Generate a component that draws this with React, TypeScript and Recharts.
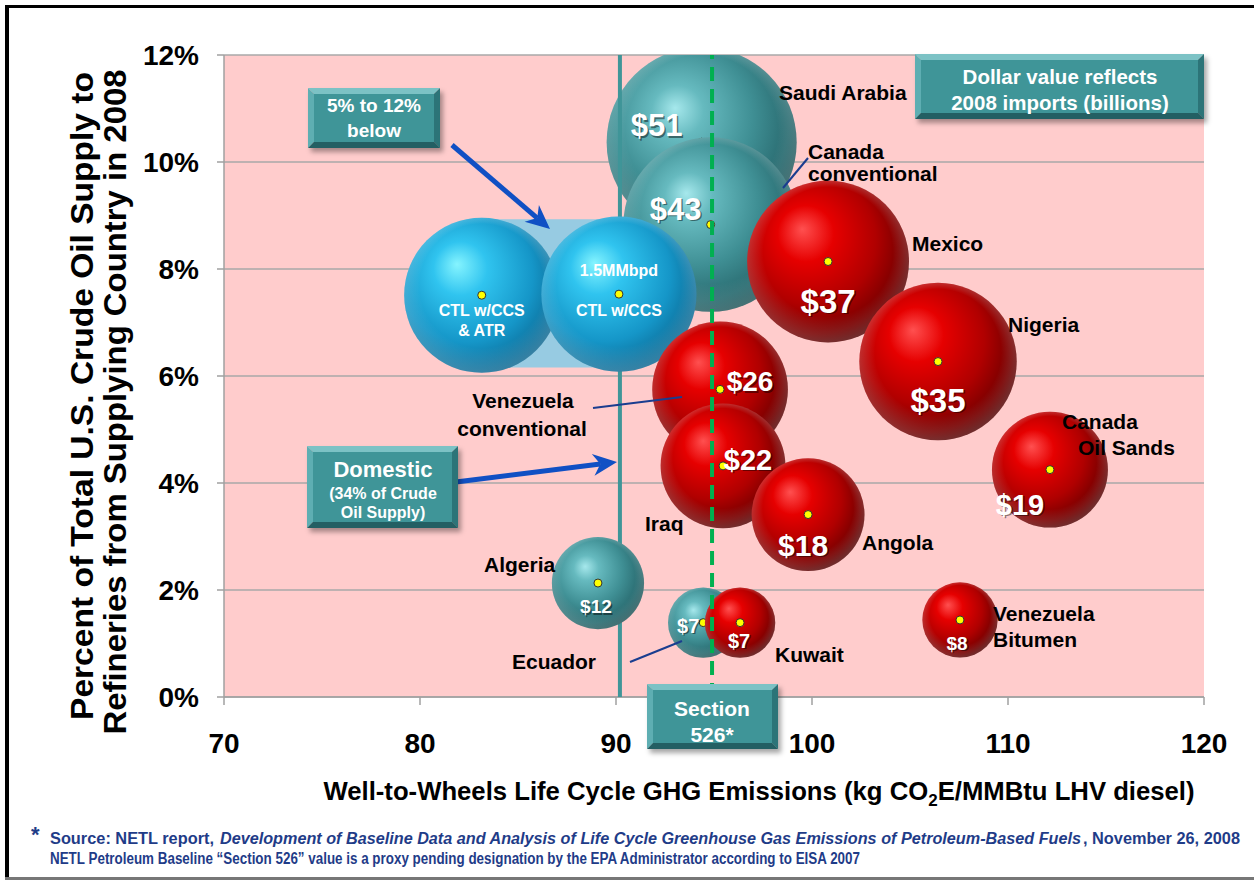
import React from 'react';
import { ScatterChart, Scatter, XAxis, YAxis, ZAxis, CartesianGrid, ReferenceArea } from 'recharts';

const W = 1254;
const H = 886;

// bubbles, drawn back to front
const names = [
  'Saudi Arabia',
  'Canada conventional',
  'CTL w/CCS & ATR',
  'CTL w/CCS 1.5MMbpd',
  'Mexico',
  'Nigeria',
  'Canada Oil Sands',
  'Venezuela conventional',
  'Iraq',
  'Angola',
  'Algeria',
  'Ecuador',
  'Kuwait',
  'Venezuela Bitumen',
];
const ghgEmissions = [94.37, 94.83, 83.15, 90.15, 100.82, 106.43, 112.14, 95.31, 95.46, 99.8, 89.08, 94.45, 96.33, 107.55];
const supplyShare = [10.37, 8.83, 7.51, 7.53, 8.14, 6.27, 4.25, 5.75, 4.32, 3.41, 2.13, 1.39, 1.39, 1.44];
const importsBillions = [51, 43, null, null, 37, 35, 19, 26, 22, 18, 12, 7, 7, 8];
const kinds = ['teal', 'teal', 'ctl', 'ctl', 'red', 'red', 'red', 'red', 'red', 'red', 'teal', 'teal', 'red', 'red'];
const ctlBubbleSize = 34;

const xTicks = [70, 80, 90, 100, 110, 120];
const yTicks = [0, 2, 4, 6, 8, 10, 12];
const domesticGhg = 90.2;
const section526Ghg = 94.9;
const ctlBandLow = 6.16;
const ctlBandHigh = 8.93;

const points = names.map((name, i) => ({
  name,
  x: ghgEmissions[i],
  y: supplyShare[i],
  z: importsBillions[i] ?? ctlBubbleSize,
  value: importsBillions[i],
  kind: kinds[i],
}));
const backPoints = points.filter((p) => p.name === 'Saudi Arabia');
const frontPoints = points.filter((p) => p.name !== 'Saudi Arabia');
const domesticData = [{ x: domesticGhg, y: 0 }, { x: domesticGhg, y: 12 }];
const section526Data = [{ x: section526Ghg, y: 0 }, { x: section526Ghg, y: 12 }];

const F = '"Liberation Sans", Arial, Helvetica, sans-serif';
const FN = '"Liberation Sans Narrow", "Arial Narrow", "Liberation Sans", sans-serif';

// value label placement relative to the bubble point: dx, dy (baseline), font size
const valueLabelPos: Record<string, [number, number, number]> = {
  'Saudi Arabia': [-45, -6, 31],
  'Canada conventional': [-35, -5, 31],
  Mexico: [0, 51, 33],
  Nigeria: [0, 50, 33],
  'Canada Oil Sands': [-30, 45, 29],
  'Venezuela conventional': [30, 2, 28],
  Iraq: [25, 4, 29],
  Angola: [-5, 41, 30],
  Algeria: [-2, 30, 19],
  Ecuador: [-15, 10, 20],
  Kuwait: [-1, 25, 20],
  'Venezuela Bitumen': [-3, 30, 19],
};
const ctlLabels: Record<string, [string, number][]> = {
  'CTL w/CCS & ATR': [['CTL w/CCS', 21], ['& ATR', 41]],
  'CTL w/CCS 1.5MMbpd': [['1.5MMbpd', -18], ['CTL w/CCS', 22]],
};

const Sphere = (props: any) => {
  const { cx, cy, payload } = props;
  if (cx == null || cy == null || !payload) return <g />;
  const r = Math.sqrt(Math.max(props.size || 0, 0) / Math.PI);
  const lab = valueLabelPos[payload.name];
  const ctl = ctlLabels[payload.name];
  return (
    <g>
      <circle cx={cx} cy={cy} r={r} fill={`url(#sphere-${payload.kind})`} />
      <circle cx={cx} cy={cy} r={r} fill="url(#sphere-rim)" />
      <circle cx={cx} cy={cy} r={4} fill="#ffff00" stroke="#333" strokeWidth={1} />
      {lab && payload.value != null && (
        <g fontFamily={F} fontWeight="bold" fontSize={lab[2]} textAnchor="middle">
          <text x={cx + lab[0] + 1.5} y={cy + lab[1] + 1.5} fill="rgba(0,0,0,0.45)">${payload.value}</text>
          <text x={cx + lab[0]} y={cy + lab[1]} fill="#fff">${payload.value}</text>
        </g>
      )}
      {ctl && (
        <g fontFamily={F} fontWeight="bold" fontSize={16} textAnchor="middle" fill="#fff">
          {ctl.map(([t, dy]) => (
            <text key={t} x={cx} y={cy + dy}>{t}</text>
          ))}
        </g>
      )}
    </g>
  );
};

const NoMark = () => <g />;

const Box = ({ x, y, w, h }: { x: number; y: number; w: number; h: number }) => {
  const b = 6;
  return (
    <g>
      <rect x={x + 3} y={y + 4} width={w} height={h} fill="rgba(0,0,0,0.35)" filter="url(#soft)" />
      <polygon points={`${x},${y} ${x + w},${y} ${x + w - b},${y + b} ${x + b},${y + b}`} fill="#7cc2c5" />
      <polygon points={`${x},${y} ${x + b},${y + b} ${x + b},${y + h - b} ${x},${y + h}`} fill="#5eaeb2" />
      <polygon points={`${x + w},${y} ${x + w},${y + h} ${x + w - b},${y + h - b} ${x + w - b},${y + b}`} fill="#2c7478" />
      <polygon points={`${x},${y + h} ${x + b},${y + h - b} ${x + w - b},${y + h - b} ${x + w},${y + h}`} fill="#235f63" />
      <rect x={x + b} y={y + b} width={w - 2 * b} height={h - 2 * b} fill="#3f9598" />
    </g>
  );
};

const Arrow = ({ x1, y1, x2, y2 }: { x1: number; y1: number; x2: number; y2: number }) => {
  const a = Math.atan2(y2 - y1, x2 - x1);
  const len = 24;
  const hw = 11;
  const bx = x2 - len * Math.cos(a);
  const by = y2 - len * Math.sin(a);
  const nx = -Math.sin(a);
  const ny = Math.cos(a);
  const ix = x2 - len * 0.7 * Math.cos(a);
  const iy = y2 - len * 0.7 * Math.sin(a);
  return (
    <g>
      <line x1={x1} y1={y1} x2={ix} y2={iy} stroke="#1050c4" strokeWidth={5} />
      <polygon
        points={`${x2},${y2} ${bx + nx * hw},${by + ny * hw} ${ix},${iy} ${bx - nx * hw},${by - ny * hw}`}
        fill="#1050c4"
      />
    </g>
  );
};

const countryLabels: { t: string; x: number; y: number; anchor?: string }[] = [
  { t: 'Saudi Arabia', x: 779, y: 100 },
  { t: 'Canada', x: 808, y: 159 },
  { t: 'conventional', x: 808, y: 181 },
  { t: 'Mexico', x: 912, y: 251 },
  { t: 'Nigeria', x: 1008, y: 332 },
  { t: 'Canada', x: 1062, y: 429 },
  { t: 'Oil Sands', x: 1078, y: 455 },
  { t: 'Venezuela', x: 523, y: 408, anchor: 'middle' },
  { t: 'conventional', x: 522, y: 436, anchor: 'middle' },
  { t: 'Iraq', x: 645, y: 531 },
  { t: 'Angola', x: 862, y: 550 },
  { t: 'Algeria', x: 484, y: 572 },
  { t: 'Ecuador', x: 512, y: 669 },
  { t: 'Kuwait', x: 775, y: 662 },
  { t: 'Venezuela', x: 993, y: 621 },
  { t: 'Bitumen', x: 993, y: 647 },
];

const tickStyle = { fontFamily: F, fontWeight: 'bold', fontSize: 28, fill: '#000' };

// footnote is set condensed: drawn in a horizontally squeezed group
const FS = 0.86;

export default function App() {
  return (
    <div style={{ position: 'absolute', left: 0, top: 0, width: W, height: H, background: '#fff' }}>
      <ScatterChart width={W} height={H} margin={{ top: 55, right: 50, bottom: 129, left: 0 }}>
        <CartesianGrid vertical={false} fill="#ffcccc" stroke="#a8a8a8" strokeWidth={1.5} />
        <XAxis
          type="number"
          dataKey="x"
          domain={[70, 120]}
          ticks={xTicks}
          allowDataOverflow
          height={60}
          tickSize={8}
          tickMargin={28}
          tick={tickStyle}
          axisLine={{ stroke: '#a0a0a0', strokeWidth: 1.5 }}
          tickLine={{ stroke: '#a0a0a0', strokeWidth: 1.5 }}
        />
        <YAxis
          type="number"
          dataKey="y"
          domain={[0, 12]}
          ticks={yTicks}
          allowDataOverflow
          width={224}
          tickSize={7}
          tickMargin={18}
          tick={tickStyle}
          tickFormatter={(v: number) => `${v}%`}
          axisLine={{ stroke: '#a0a0a0', strokeWidth: 1.5 }}
          tickLine={{ stroke: '#a0a0a0', strokeWidth: 1.5 }}
        />
        <ZAxis type="number" dataKey="z" domain={[0, 51]} range={[0, Math.PI * 95 * 95]} />
        <ReferenceArea
          x1={ghgEmissions[2]}
          x2={ghgEmissions[3]}
          y1={ctlBandLow}
          y2={ctlBandHigh}
          fill="#8ccbe4"
          fillOpacity={0.9}
          stroke="none"
        />
        <Scatter data={backPoints} shape={Sphere} isAnimationActive={false} />
        <Scatter
          data={domesticData}
          shape={NoMark}
          line={{ stroke: '#3f9598', strokeWidth: 4 }}
          isAnimationActive={false}
        />
        <Scatter data={frontPoints} shape={Sphere} isAnimationActive={false} />
        <Scatter
          data={section526Data}
          shape={NoMark}
          line={{ stroke: '#00b050', strokeWidth: 4, strokeDasharray: '14 8' }}
          isAnimationActive={false}
        />
      </ScatterChart>

      <svg
        width={W}
        height={H}
        style={{ position: 'absolute', left: 0, top: 0, pointerEvents: 'none' }}
      >
        <defs>
          <radialGradient id="sphere-teal" cx="42%" cy="40%" r="62%" fx="36%" fy="32%">
            <stop offset="0%" stopColor="#a6e8ec" />
            <stop offset="22%" stopColor="#66babf" />
            <stop offset="60%" stopColor="#3f8f94" />
            <stop offset="88%" stopColor="#2a6c71" />
            <stop offset="100%" stopColor="#1e5357" />
          </radialGradient>
          <radialGradient id="sphere-red" cx="42%" cy="40%" r="62%" fx="34%" fy="30%">
            <stop offset="0%" stopColor="#ff5050" />
            <stop offset="28%" stopColor="#e60000" />
            <stop offset="65%" stopColor="#b00000" />
            <stop offset="90%" stopColor="#760000" />
            <stop offset="100%" stopColor="#520000" />
          </radialGradient>
          <radialGradient id="sphere-ctl" cx="42%" cy="40%" r="62%" fx="34%" fy="30%">
            <stop offset="0%" stopColor="#85f4ff" />
            <stop offset="28%" stopColor="#30c4ef" />
            <stop offset="70%" stopColor="#1596c8" />
            <stop offset="100%" stopColor="#0b6690" />
          </radialGradient>
          <radialGradient id="sphere-rim" cx="50%" cy="50%" r="50%" fx="50%" fy="20%">
            <stop offset="80%" stopColor="#ffffff" stopOpacity={0} />
            <stop offset="100%" stopColor="#ffffff" stopOpacity={0.18} />
          </radialGradient>
          <filter id="soft" x="-10%" y="-10%" width="120%" height="130%">
            <feGaussianBlur stdDeviation="2.5" />
          </filter>
        </defs>

        {/* frame */}
        <rect x={5} y={5} width={W - 5} height={3} fill="#000" />
        <rect x={5} y={5} width={4} height={875} fill="#000" />
        <rect x={5} y={877} width={W - 5} height={3} fill="#777" />

        {/* y axis title */}
        <g fontFamily={FN} fontWeight="bold" fontSize={31} fill="#000" textAnchor="middle">
          <text transform="translate(93,396) rotate(-90)" textLength={648} lengthAdjust="spacingAndGlyphs">
            Percent of Total U.S.  Crude Oil Supply to
          </text>
          <text transform="translate(126,402) rotate(-90)" textLength={665} lengthAdjust="spacingAndGlyphs">
            Refineries from Supplying Country in 2008
          </text>
        </g>

        {/* x axis title */}
        <text x={759} y={800} textAnchor="middle" fontFamily={F} fontWeight="bold" fontSize={25.7} fill="#000">
          Well-to-Wheels Life Cycle GHG Emissions (kg CO
          <tspan fontSize={17} dy={6}>2</tspan>
          <tspan dy={-6}>E/MMBtu LHV diesel)</tspan>
        </text>

        {/* connectors */}
        <g stroke="#1a3d8f" strokeWidth={2}>
          <line x1={808} y1={158} x2={783} y2={188} />
          <line x1={593} y1={408} x2={682} y2={397} />
          <line x1={630} y1={662} x2={682} y2={641} />
        </g>

        {/* country labels */}
        <g fontFamily={F} fontWeight="bold" fontSize={21} fill="#000">
          {countryLabels.map((c, i) => (
            <text key={i} x={c.x} y={c.y} textAnchor={c.anchor || 'start'}>{c.t}</text>
          ))}
        </g>

        {/* callouts */}
        <Arrow x1={452} y1={145} x2={550} y2={229} />
        <Arrow x1={456} y1={482} x2={617} y2={462} />

        <Box x={308} y={88} w={132} h={60} />
        <g fontFamily={F} fontWeight="bold" fontSize={19} fill="#fff" textAnchor="middle">
          <text x={374} y={112}>5% to 12%</text>
          <text x={374} y={137}>below</text>
        </g>

        <Box x={915} y={54} w={289} h={65} />
        <g fontFamily={F} fontWeight="bold" fontSize={20.5} fill="#fff" textAnchor="middle">
          <text x={1060} y={84}>Dollar value reflects</text>
          <text x={1060} y={110}>2008 imports (billions)</text>
        </g>

        <Box x={307} y={446} w={151} h={82} />
        <g fontFamily={F} fontWeight="bold" fill="#fff" textAnchor="middle">
          <text x={383} y={477} fontSize={22}>Domestic</text>
          <text x={383} y={499} fontSize={16}>(34% of Crude</text>
          <text x={383} y={518} fontSize={16}>Oil Supply)</text>
        </g>

        <Box x={647} y={684} w={131} h={65} />
        <g fontFamily={F} fontWeight="bold" fontSize={21} fill="#fff" textAnchor="middle">
          <text x={712} y={716}>Section</text>
          <text x={712} y={742}>526*</text>
        </g>

        {/* footnote */}
        <text x={31} y={842} fontFamily={F} fontWeight="bold" fontSize={22} fill="#1f3c88">*</text>
        <g transform={`scale(${FS},1)`} fontFamily={F} fontWeight="bold" fontSize={17} fill="#1f3c88">
          <text x={50 / FS} y={844} textLength={164 / FS} lengthAdjust="spacingAndGlyphs">
            Source: NETL report,
          </text>
          <text x={220 / FS} y={844} fontStyle="italic" textLength={861 / FS} lengthAdjust="spacingAndGlyphs">
            Development of Baseline Data and Analysis of Life Cycle Greenhouse Gas Emissions of Petroleum-Based Fuels
          </text>
          <text x={1083 / FS} y={844} textLength={157 / FS} lengthAdjust="spacingAndGlyphs">
            , November 26, 2008
          </text>
          <text x={50 / FS} y={864} textLength={810 / FS} lengthAdjust="spacingAndGlyphs">
            NETL Petroleum Baseline “Section 526” value is a proxy pending designation by the EPA Administrator according to EISA 2007
          </text>
        </g>
      </svg>
    </div>
  );
}
